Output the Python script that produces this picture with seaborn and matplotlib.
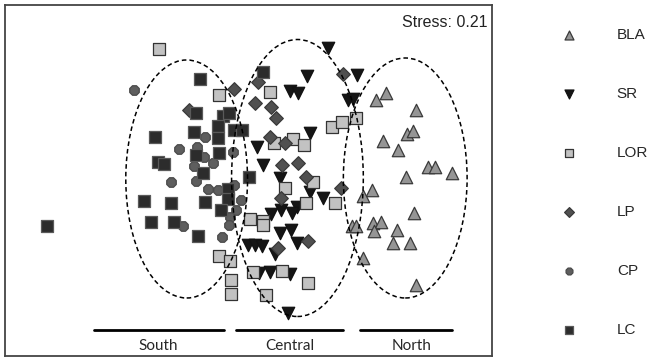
import numpy as np
import pandas as pd
import matplotlib
matplotlib.use("Agg")
import matplotlib.pyplot as plt
from matplotlib.patches import Ellipse
import seaborn as sns

# NMDS scores (arbitrary NMDS units)
bla_x = [1.26, 1.36, 1.66, 1.33, 1.57, 1.63, 1.48, 1.78, 1.85, 2.02, 1.56, 1.22,
         1.13, 1.64, 1.02, 1.06, 1.23, 1.31, 1.24, 1.47, 1.43, 1.60, 1.13, 1.66]
bla_y = [0.80, 0.87, 0.70, 0.39, 0.46, 0.49, 0.30, 0.13, 0.13, 0.07, 0.03, -0.10,
         -0.16, -0.33, -0.46, -0.46, -0.43, -0.42, -0.51, -0.50, -0.63, -0.63, -0.78, -1.05]

sr_x = [0.78, 0.57, 1.07, 0.40, 0.48, 0.98, 1.03, 0.60, 0.06, 0.12, 0.30, 0.60, 0.73, 0.47,
        0.31, 0.42, 0.21, 0.30, 0.41, 0.47, -0.03, 0.04, 0.11, 0.25, 0.08, 0.19, 0.40, 0.38]
sr_y = [1.32, 1.04, 1.05, 0.89, 0.87, 0.80, 0.81, 0.47, 0.33, 0.15, 0.02, -0.12, -0.18, -0.27,
        -0.30, -0.33, -0.34, -0.53, -0.50, -0.63, -0.65, -0.65, -0.66, -0.74, -0.93, -0.92, -0.94, -1.33]

lor_x = [-0.92, -0.32, 0.19, 0.82, 0.92, 1.06, 0.24, 0.43, 0.54, 0.63, 0.35, 0.85,
         0.56, -0.01, 0.12, 0.12, -0.32, -0.21, -0.20, -0.20, 0.02, 0.32, 0.58, 0.15]
lor_y = [1.31, 0.85, 0.88, 0.53, 0.58, 0.62, 0.37, 0.41, 0.35, -0.02, -0.08, -0.23,
         -0.23, -0.39, -0.41, -0.45, -0.76, -0.81, -1.00, -1.14, -0.92, -0.91, -1.03, -1.15]

lp_x = [-0.17, 0.07, 0.93, 0.04, 0.21, 0.26, -0.62, 0.19, 0.35, 0.32, 0.48, 0.56, 0.91, 0.31, 0.58, 0.28]
lp_y = [0.91, 0.98, 1.06, 0.77, 0.73, 0.62, 0.70, 0.43, 0.37, 0.15, 0.17, 0.03, -0.08, -0.18, -0.61, -0.68]

cp_x = [-1.17, -0.46, -0.72, -0.54, -0.18, -0.47, -0.57, -0.38, -0.80, -0.55,
        -0.43, -0.33, -0.17, -0.10, -0.15, -0.21, -0.22, -0.68, -0.29]
cp_y = [0.90, 0.43, 0.31, 0.33, 0.28, 0.23, 0.14, 0.17, -0.02, -0.01,
        -0.09, -0.10, -0.05, -0.20, -0.30, -0.37, -0.45, -0.46, -0.57]

lc_x = [-2.04, -0.51, -0.55, -0.28, -0.22, -0.33, -0.57, -0.96, -0.33, -0.17, -0.09, -0.93, -0.87, -0.55,
        -0.32, -0.48, -0.23, -0.23, -0.30, -1.07, -0.80, -0.46, -1.00, -0.77, -0.53, 0.12, -0.02]
lc_y = [-0.46, 1.01, 0.67, 0.64, 0.67, 0.54, 0.48, 0.43, 0.42, 0.50, 0.50, 0.18, 0.16, 0.25,
        0.27, 0.07, -0.09, -0.19, -0.30, -0.21, -0.23, -0.22, -0.42, -0.42, -0.56, 1.08, 0.03]

sites = ["BLA", "SR", "LOR", "LP", "CP", "LC"]
regions = ["South", "Central", "North"]
stress = 0.21

frames = []
for name, xs, ys in [("BLA", bla_x, bla_y), ("SR", sr_x, sr_y), ("LOR", lor_x, lor_y),
                     ("LP", lp_x, lp_y), ("CP", cp_x, cp_y), ("LC", lc_x, lc_y)]:
    frames.append(pd.DataFrame({"NMDS1": xs, "NMDS2": ys, "site": name}))
df = pd.concat(frames, ignore_index=True)

markers = {"BLA": "^", "SR": "v", "LOR": "s", "LP": "D", "CP": "8", "LC": "s"}
fills = {"BLA": "#959595", "SR": "#151515", "LOR": "#c2c2c2", "LP": "#505050", "CP": "#5e5e5e", "LC": "#2c2c2c"}
edges = {"BLA": "#3a3a3a", "SR": "#111111", "LOR": "#333333", "LP": "#3a3a3a", "CP": "#4a4a4a", "LC": "#5a5a5a"}
sizes = {"BLA": 80, "SR": 80, "LOR": 75, "LP": 48, "CP": 55, "LC": 75}

sns.set_style("white")
plt.rcParams["font.family"] = ["Liberation Sans", "DejaVu Sans"]

fig = plt.figure(figsize=(6.52, 3.64), dpi=100)
ax = fig.add_axes([0.0077, 0.022, 0.747, 0.9643])

for s in sites:
    sub = df[df["site"] == s]
    sns.scatterplot(data=sub, x="NMDS1", y="NMDS2", marker=markers[s], color=fills[s],
                    edgecolor=edges[s], linewidth=0.9, s=sizes[s], label=s, ax=ax, zorder=3)

# group ellipses
for cx, cy, w, h in [(-0.64, 0.01, 1.22, 2.38), (0.47, 0.02, 1.32, 2.77), (1.55, 0.02, 1.24, 2.40)]:
    ax.add_patch(Ellipse((cx, cy), w, h, fill=False, edgecolor="black",
                         linestyle=(0, (3, 2)), linewidth=1.1, zorder=4))

# region bars + labels
bar_y = -1.50
for (x0, x1), lab in zip([(-1.57, -0.27), (-0.15, 0.93), (1.10, 2.02)], regions):
    ax.plot([x0, x1], [bar_y, bar_y], color="black", linewidth=2.0)
    ax.text((x0 + x1) / 2 + (0.05 if lab == "North" else 0), -1.66, lab,
            ha="center", va="center", fontsize=11, family=["Lato", "DejaVu Sans"])

ax.text(0.99, 0.95, f"Stress: {stress:.2f}", transform=ax.transAxes, ha="right", va="center",
        fontsize=11.5, color="#222222")

ax.set_xlim(-2.46, 2.42)
ax.set_ylim(-1.76, 1.75)
ax.set_xticks([])
ax.set_yticks([])
ax.set_xlabel("")
ax.set_ylabel("")
for sp in ax.spines.values():
    sp.set_color("#444444")
    sp.set_linewidth(1.3)

h, l = ax.get_legend_handles_labels()
ax.get_legend().remove()
leg = fig.legend(h, l, loc="upper left", bbox_to_anchor=(558 / 652, 1 - 28 / 364),
                 frameon=False, fontsize=11, labelspacing=2.95, handlelength=1.5,
                 handletextpad=2.35, borderpad=0, borderaxespad=0, markerscale=0.72,
                 scatterpoints=1)

fig.savefig("out.png", dpi=100)
